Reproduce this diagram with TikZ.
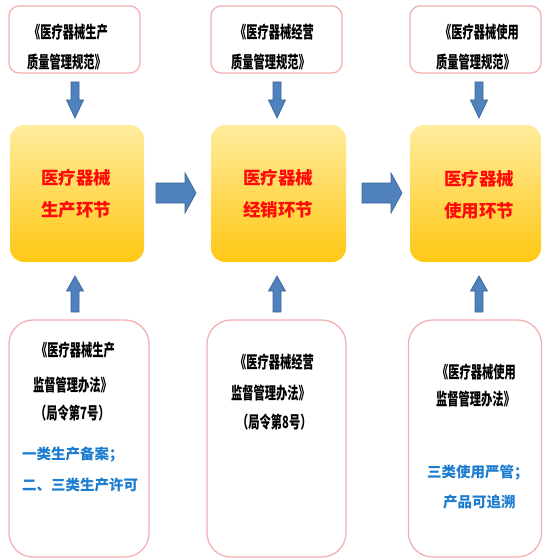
\documentclass[tikz,border=0pt]{standalone}
\usepackage{fontspec}
\newfontfamily\cjk[FakeStretch=0.67]{Noto Sans CJK SC}
\newfontfamily\cjkw{Noto Sans CJK SC}
\usetikzlibrary{calc}
\definecolor{pinkb}{HTML}{F4B0B0}
\definecolor{arrfill}{HTML}{4F81BD}
\definecolor{arredge}{HTML}{3A6597}
\definecolor{ytop}{HTML}{FFEC9E}
\definecolor{ybot}{HTML}{FFC814}
\definecolor{bluet}{HTML}{1C7CCF}
\definecolor{redt}{HTML}{FF0A0A}
\tikzset{
  lawbox/.style={draw=pinkb, line width=1.3pt, fill=white, inner sep=0pt},
  stagebox/.style={rounded corners=14pt, top color=ytop, bottom color=ybot, draw=none, inner sep=0pt},
  lawtxt/.style={font=\cjk\bfseries\fontsize{16.8}{16.8}\selectfont, anchor=west, inner sep=0pt, text=black},
  bluetxt/.style={font=\cjkw\bfseries\fontsize{14.5}{14.5}\selectfont, anchor=west, inner sep=0pt, text=bluet},
  stagetxt/.style={font=\cjkw\bfseries\fontsize{17.5}{32}\selectfont, align=center, text=redt, inner sep=0pt},
  blk/.style={fill=arrfill, draw=arredge, line width=0.7pt},
  darr/.pic={\draw[blk] (-4,0) -- (4,0) -- (4,18) -- (8.5,18) -- (0,36) -- (-8.5,18) -- (-4,18) -- cycle;},
  uarr/.pic={\draw[blk] (0,0) -- (8.5,15) -- (4,15) -- (4,36) -- (-4,36) -- (-4,15) -- (-8.5,15) -- cycle;},
  rarr/.pic={\draw[blk] (0,-10) -- (29,-10) -- (29,-20) -- (40,0) -- (29,20) -- (29,10) -- (0,10) -- cycle;}
}
\begin{document}
\begin{tikzpicture}[x=1pt,y=-1pt]
\useasboundingbox (0,0) rectangle (542,559);
% top law boxes
\node[lawbox, rounded corners=10pt, minimum width=131pt, minimum height=67pt] (t1) at (74.5,39.5) {};
\node[lawbox, rounded corners=10pt, minimum width=131pt, minimum height=67pt] (t2) at (276.5,39.5) {};
\node[lawbox, rounded corners=10pt, minimum width=131pt, minimum height=67pt] (t3) at (475.5,39.5) {};
% stage boxes
\node[stagebox, minimum width=134pt, minimum height=137pt] (s1) at (77,193.5) {};
\node[stagebox, minimum width=135pt, minimum height=137pt] (s2) at (278.5,193.5) {};
\node[stagebox, minimum width=131pt, minimum height=137pt] (s3) at (475.5,193.5) {};
\node[stagetxt] (s1t) at (76,194) {医疗器械\\生产环节};
\node[stagetxt] (s2t) at (278,194) {医疗器械\\经销环节};
\node[stagetxt] (s3t) at (479,195) {医疗器械\\使用环节};
% bottom law boxes
\node[lawbox, rounded corners=24pt, minimum width=140pt, minimum height=237pt] (b1) at (79,438.5) {};
\node[lawbox, rounded corners=24pt, minimum width=139pt, minimum height=237pt] (b2) at (276.5,438.5) {};
\node[lawbox, rounded corners=24pt, minimum width=133pt, minimum height=237pt] (b3) at (475,438.5) {};
% top texts
\node[lawtxt] (t1a) at (29,32) {《医疗器械生产};
\node[lawtxt] (t1b) at (27,62) {质量管理规范》};
\node[lawtxt] (t2a) at (235,32) {《医疗器械经营};
\node[lawtxt] (t2b) at (231,62) {质量管理规范》};
\node[lawtxt] (t3a) at (440,32) {《医疗器械使用};
\node[lawtxt] (t3b) at (436,62) {质量管理规范》};
% bottom texts
\node[lawtxt] (b1a) at (36,350) {《医疗器械生产};
\node[lawtxt] (b1b) at (33,385) {监督管理办法》};
\node[lawtxt] (b1c) at (35,413) {（局令第7号）};
\node[bluetxt] (b1d) at (22,455) {一类生产备案；};
\node[bluetxt] (b1e) at (22,485) {二、三类生产许可};
\node[lawtxt] (b2a) at (235,362) {《医疗器械经营};
\node[lawtxt] (b2b) at (231,393) {监督管理办法》};
\node[lawtxt] (b2c) at (237,422) {（局令第8号）};
\node[lawtxt] (b3a) at (437,372) {《医疗器械使用};
\node[lawtxt] (b3b) at (436,399) {监督管理办法》};
\node[bluetxt] (b3c) at (427,473) {三类使用严管；};
\node[bluetxt] (b3d) at (443,502) {产品可追溯};
% arrows
\coordinate (d1) at (75,82);
\coordinate (d2) at (277,82);
\coordinate (d3) at (479,82);
\pic at (d1) {darr};
\pic at (d2) {darr};
\pic at (d3) {darr};
\coordinate (r1) at (156,193);
\coordinate (r2) at (362,193);
\pic at (r1) {rarr};
\pic at (r2) {rarr};
\coordinate (u1) at (75,276);
\coordinate (u2) at (277,276);
\coordinate (u3) at (479,276);
\pic at (u1) {uarr};
\pic at (u2) {uarr};
\pic at (u3) {uarr};
\end{tikzpicture}
\end{document}
